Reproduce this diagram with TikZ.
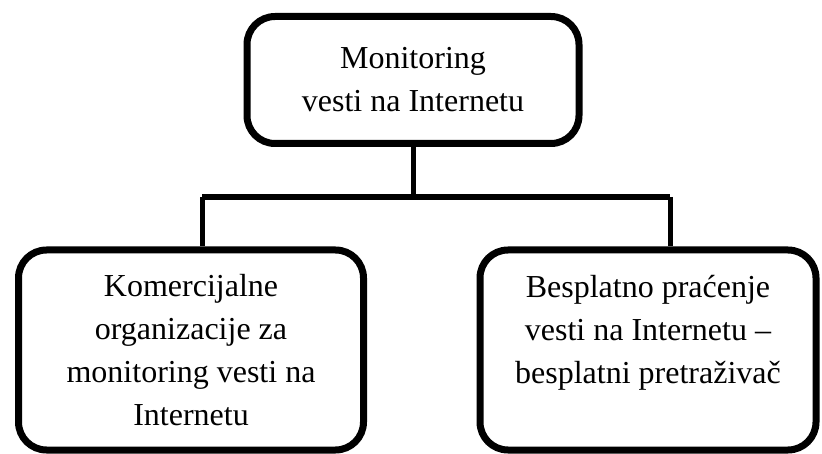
\documentclass[tikz,border=0pt]{standalone}
\usepackage{fontspec}
\setmainfont{Liberation Serif}
\tikzset{
  box/.style={shape=rectangle, draw=black, line width=7pt, rounded corners=28pt,
    align=center, font=\fontsize{32}{43}\selectfont},
  link/.style={draw=black, line width=5pt}
}
\begin{document}
\begin{tikzpicture}[x=1pt, y=-1pt]
    \useasboundingbox (0,0) rectangle (822,454);

    \node[box, minimum width=332pt, minimum height=127pt] (mon) at (413,80) {Monitoring\\vesti na Internetu};
    \node[box, minimum width=345pt, minimum height=200pt] (kom) at (191,350) {Komercijalne\\organizacije za\\monitoring vesti na\\Internetu};
    \node[box, minimum width=336pt, minimum height=200pt, text depth=42pt] (bes) at (648,350) {Besplatno praćenje\\vesti na Internetu --\\besplatni pretraživač};

    \coordinate (jl) at (202,197);
    \coordinate (jr) at (670,197);

    \draw[link] (mon.south) -- (mon.south |- jl);
    \draw[link, line width=6pt] (jl) -- (jr);
    \draw[link] (jl) -- (jl |- kom.north);
    \draw[link] (jr) -- (jr |- bes.north);

\end{tikzpicture}
\end{document}
